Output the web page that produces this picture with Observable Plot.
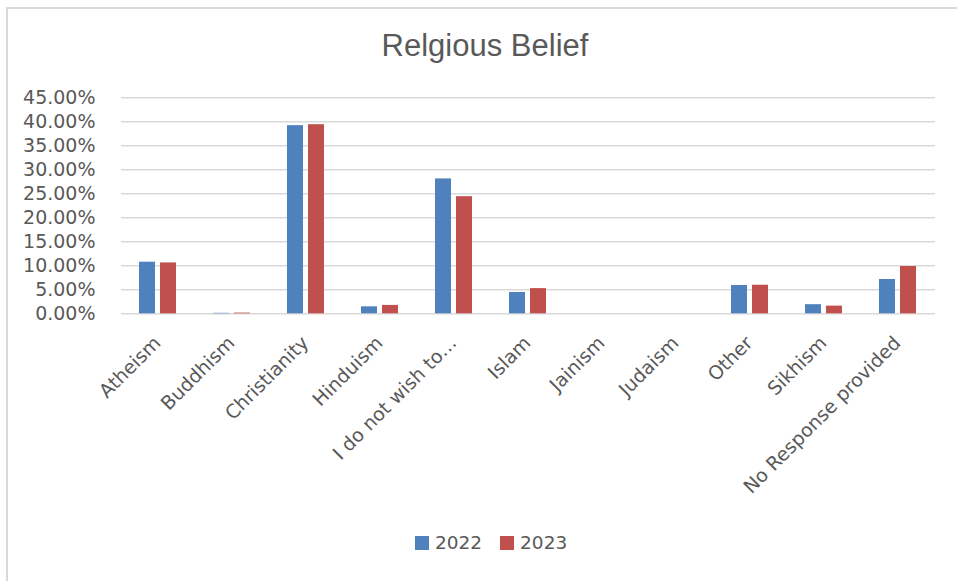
<!DOCTYPE html>
<html>
<head>
<meta charset="utf-8">
<script src="https://cdn.jsdelivr.net/npm/d3@7"></script>
<script src="https://cdn.jsdelivr.net/npm/@observablehq/plot@0.6"></script>
<style>
  html, body { margin: 0; padding: 0; background: #fff; }
  #wrap { position: relative; width: 957px; height: 581px; overflow: hidden; background: #fff; }
  #frame { position: absolute; left: 6px; top: 7px; width: 960px; height: 580px;
           border-top: 2px solid #d9d9d9; border-left: 2px solid #d9d9d9; box-sizing: border-box; }
  #title { position: absolute; left: 0; top: 31px; width: 970px; text-align: center;
           font-family: "Liberation Sans", Arial, sans-serif; font-size: 31px; line-height: 30px; color: #595959; }
  #chart { position: absolute; left: 0; top: 80px; }
  #legend { position: absolute; left: 415px; top: 532px; display: flex; align-items: center;
            font-family: "DejaVu Sans", sans-serif; font-size: 18.5px; color: #595959; }
  #legend .sw { width: 14px; height: 14px; display: inline-block; margin-right: 6px; }
  #legend .item { display: flex; align-items: center; margin-right: 18px; }
</style>
</head>
<body>
<div id="wrap">
  <div id="frame"></div>
  <div id="title">Relgious Belief</div>
  <div id="chart"></div>
  <div id="legend"></div>
</div>
<script>
const categories = ["Atheism", "Buddhism", "Christianity", "Hinduism", "I do not wish to…", "Islam", "Jainism", "Judaism", "Other", "Sikhism", "No Response provided"];
const years = ["2022", "2023"];
const values2022 = [10.75, 0.1, 39.2, 1.45, 28.1, 4.45, 0, 0, 5.9, 1.9, 7.15];
const values2023 = [10.6, 0.15, 39.4, 1.75, 24.4, 5.25, 0, 0, 5.95, 1.6, 9.85];
const yTicks = [0, 5, 10, 15, 20, 25, 30, 35, 40, 45];
const colors = ["#4F81BD", "#C0504D"];

const data = [];
categories.forEach((c, i) => {
  data.push({religion: c, year: years[0], value: values2022[i]});
  data.push({religion: c, year: years[1], value: values2023[i]});
});

const chart = Plot.plot({
  width: 957,
  height: 440,
  marginLeft: 118,
  marginRight: 19,
  marginTop: 17.3,
  marginBottom: 206.7,
  style: {fontFamily: "DejaVu Sans, sans-serif", fontSize: "19px", color: "#595959", background: "transparent"},
  fx: {domain: categories, paddingInner: 0, paddingOuter: 0, axis: null, label: null},
  x: {domain: years, paddingInner: 0.23, paddingOuter: 0.83, axis: null},
  y: {domain: [0, 45], axis: null},
  color: {domain: years, range: colors},
  marks: [
    Plot.ruleY(yTicks, {stroke: "#d9d9d9", strokeWidth: 1.5}),
    Plot.barY(data, {fx: "religion", x: "year", y: "value", fill: "year"}),
    Plot.axisY(yTicks, {tickSize: 0, tickPadding: 26, tickFormat: d => d.toFixed(2) + "%", label: null, fontSize: 19}),
    Plot.axisFx({anchor: "bottom", tickRotate: -45, tickSize: 0, tickPadding: 26, textAnchor: "end", lineAnchor: "middle", dx: -1, label: null, fontSize: 19})
  ]
});
document.getElementById("chart").appendChild(chart);

const legend = document.getElementById("legend");
years.forEach((y, i) => {
  const item = document.createElement("span");
  item.className = "item";
  const sw = document.createElement("span");
  sw.className = "sw";
  sw.style.background = colors[i];
  item.appendChild(sw);
  item.appendChild(document.createTextNode(y));
  legend.appendChild(item);
});
</script>
</body>
</html>
